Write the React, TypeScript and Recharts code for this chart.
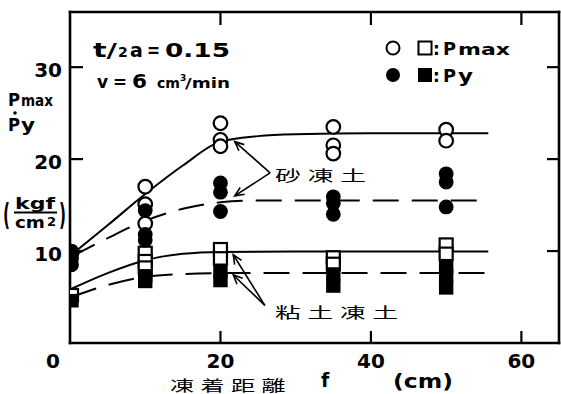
import React from 'react';
import { ComposedChart, XAxis, YAxis, Line, Scatter } from 'recharts';

// ---- data: freezing distance f (cm) vs strength (kgf/cm2) ----
// sandy frozen soil
const sandPmax = [
  { x: 0.2, y: 9.8 },
  { x: 10, y: 17.0 }, { x: 10, y: 15.1 }, { x: 10, y: 13.0 },
  { x: 20, y: 23.9 }, { x: 20, y: 22.1 }, { x: 20, y: 21.4 },
  { x: 35, y: 23.5 }, { x: 35, y: 21.5 }, { x: 35, y: 20.6 },
  { x: 50, y: 23.2 }, { x: 50, y: 22.0 },
];
const sandPy = [
  { x: 0.2, y: 10.0 }, { x: 0.2, y: 9.2 }, { x: 0.2, y: 8.5 },
  { x: 10, y: 14.4 }, { x: 10, y: 11.8 }, { x: 10, y: 11.2 },
  { x: 20, y: 17.4 }, { x: 20, y: 16.4 }, { x: 20, y: 14.3 },
  { x: 35, y: 15.9 }, { x: 35, y: 15.2 }, { x: 35, y: 14.0 },
  { x: 50, y: 18.4 }, { x: 50, y: 17.5 }, { x: 50, y: 14.8 },
];
// clayey frozen soil
const clayPmax = [
  { x: 0.2, y: 5.2 },
  { x: 10, y: 9.8 }, { x: 10, y: 8.9 }, { x: 10, y: 8.2 },
  { x: 20, y: 10.2 }, { x: 20, y: 9.2 },
  { x: 35, y: 9.3 }, { x: 35, y: 8.6 },
  { x: 50, y: 10.7 }, { x: 50, y: 9.7 },
];
const clayPy = [
  { x: 0.2, y: 4.6 },
  { x: 10, y: 7.3 }, { x: 10, y: 6.7 },
  { x: 20, y: 7.8 }, { x: 20, y: 6.8 },
  { x: 35, y: 7.5 }, { x: 35, y: 6.2 },
  { x: 50, y: 8.3 }, { x: 50, y: 7.3 }, { x: 50, y: 6.0 },
];

// fitted trend curves
const sandPmaxCurve = [
  { x: 0.2, y: 9.6 }, { x: 5, y: 12.8 }, { x: 10, y: 16.2 }, { x: 15, y: 19.3 },
  { x: 20, y: 21.9 }, { x: 25, y: 22.5 }, { x: 30, y: 22.7 }, { x: 40, y: 22.8 }, { x: 55.6, y: 22.8 },
];
const sandPyCurve = [
  { x: 0.2, y: 9.4 }, { x: 5, y: 11.4 }, { x: 10, y: 13.3 }, { x: 15, y: 14.6 },
  { x: 20, y: 15.3 }, { x: 25, y: 15.5 }, { x: 55.6, y: 15.5 },
];
const clayPmaxCurve = [
  { x: 0.2, y: 5.9 }, { x: 5, y: 7.6 }, { x: 10, y: 9.0 }, { x: 15, y: 9.7 },
  { x: 20, y: 9.9 }, { x: 30, y: 9.95 }, { x: 55.6, y: 9.95 },
];
const clayPyCurve = [
  { x: 0.2, y: 5.0 }, { x: 5, y: 6.3 }, { x: 10, y: 7.2 }, { x: 15, y: 7.5 },
  { x: 20, y: 7.6 }, { x: 55.6, y: 7.6 },
];

const xTicks = [0, 20, 40, 60];
const yTicks = [10, 20, 30];
const X_DOMAIN: [number, number] = [0, 65];
const Y_DOMAIN: [number, number] = [0, 36];

// ---- layout ----
const W = 561;
const H = 394;
const LEFT_W = 70;
const BOTTOM_H = 51;
const MARGIN = { top: 11, right: 1, bottom: 0, left: 0 };
const PLOT = { left: LEFT_W, top: MARGIN.top + 1, right: W - MARGIN.right - 1, bottom: H - BOTTOM_H };
const px = (v: number) => PLOT.left + ((v - X_DOMAIN[0]) / (X_DOMAIN[1] - X_DOMAIN[0])) * (PLOT.right - PLOT.left);
const py = (v: number) => PLOT.bottom - ((v - Y_DOMAIN[0]) / (Y_DOMAIN[1] - Y_DOMAIN[0])) * (PLOT.bottom - PLOT.top);

const INK = '#000';
const NUM_FONT = 'DejaVu Sans, Arial, sans-serif';
const CJK_FONT = '"Noto Sans CJK JP", "Noto Sans CJK SC", sans-serif';
const TICK_LEN = 12;

// ---- markers ----
const OpenCircle = (p: any) => (
  <circle cx={p.cx} cy={p.cy} r={6.8} fill="#fff" stroke={INK} strokeWidth={2.2} />
);
const FilledCircle = (p: any) => (
  <circle cx={p.cx} cy={p.cy} r={7.4} fill={INK} stroke="none" />
);
const OpenSquare = (p: any) => (
  <rect x={p.cx - 6.5} y={p.cy - 6.2} width={13} height={12.4} fill="#fff" stroke={INK} strokeWidth={2.2} />
);
const FilledSquare = (p: any) => (
  <rect x={p.cx - 7.2} y={p.cy - 6.8} width={14.4} height={13.6} fill={INK} stroke="none" />
);

// ---- axis ticks (drawn inward) ----
const BottomTick = (p: any) => {
  const v = p.payload.value;
  return (
    <g>
      {v !== 0 && <line x1={p.x} x2={p.x} y1={p.y} y2={p.y - TICK_LEN} stroke={INK} strokeWidth={2.2} />}
      <text x={v === 0 ? p.x - 17 : p.x} y={p.y + 25} textAnchor="middle" fontFamily={NUM_FONT} fontWeight={700} fontSize={20} fill={INK}>
        {v}
      </text>
    </g>
  );
};
const TopTick = (p: any) =>
  p.payload.value === 0 ? <g /> : (
    <line x1={p.x} x2={p.x} y1={p.y} y2={p.y + TICK_LEN + 1} stroke={INK} strokeWidth={2.2} />
  );
const LeftTick = (p: any) => (
  <g>
    <line x1={p.x} x2={p.x + TICK_LEN + 1} y1={p.y} y2={p.y} stroke={INK} strokeWidth={2.2} />
    <text x={p.x - 8} y={p.y + 9.5} textAnchor="end" fontFamily={NUM_FONT} fontWeight={700} fontSize={20} fill={INK}>
      {p.payload.value}
    </text>
  </g>
);
const RightTick = (p: any) => (
  <line x1={p.x} x2={p.x - TICK_LEN} y1={p.y} y2={p.y} stroke={INK} strokeWidth={2.2} />
);

// ---- annotation helpers ----
const Arrow = ({ from, to }: { from: [number, number]; to: [number, number] }) => {
  const x1 = px(from[0]);
  const y1 = py(from[1]);
  const x2 = px(to[0]);
  const y2 = py(to[1]);
  const a = Math.atan2(y1 - y2, x1 - x2);
  const L = 10;
  const s = 0.42;
  return (
    <g stroke={INK} strokeWidth={1.6} fill="none">
      <line x1={x1} y1={y1} x2={x2} y2={y2} />
      <polyline
        points={`${x2 + L * Math.cos(a + s)},${y2 + L * Math.sin(a + s)} ${x2},${y2} ${x2 + L * Math.cos(a - s)},${y2 + L * Math.sin(a - s)}`}
      />
    </g>
  );
};

const B = { fontFamily: NUM_FONT, fontWeight: 700, fill: INK } as const;
const FIT = { lengthAdjust: 'spacingAndGlyphs' } as const;
const CJK = { fontFamily: CJK_FONT, fill: INK, fontSize: 15, letterSpacing: 4, lengthAdjust: 'spacingAndGlyphs' } as const;

const Annotations = () => (
  <svg width={W} height={H} style={{ position: 'absolute', left: 0, top: 0, pointerEvents: 'none' }}>
    {/* test conditions */}
    <text x={93} y={57} fontSize={19} textLength={24} {...FIT} {...B}>t/</text>
    <text x={118} y={57} fontSize={14} {...B}>2</text>
    <text x={130} y={57} fontSize={19} {...B}>a</text>
    <text x={147} y={57} fontSize={19} textLength={13} {...FIT} {...B}>=</text>
    <text x={165} y={57} fontSize={20} textLength={65} {...FIT} {...B}>0.15</text>

    <text x={97} y={88} fontSize={17} {...B}>v</text>
    <text x={113} y={88} fontSize={17} textLength={14} {...FIT} {...B}>=</text>
    <text x={132} y={88} fontSize={19} textLength={15} {...FIT} {...B}>6</text>
    <text x={157} y={88} fontSize={14} textLength={23} {...FIT} {...B}>cm</text>
    <text x={180} y={81} fontSize={9} {...B}>3</text>
    <text x={185} y={88} fontSize={14} textLength={45} {...FIT} {...B}>/min</text>

    {/* legend */}
    <circle cx={393} cy={48} r={6.5} fill="#fff" stroke={INK} strokeWidth={2} />
    <rect x={418.5} y={41.5} width={13} height={13} fill="#fff" stroke={INK} strokeWidth={2} />
    <text x={433} y={55} fontSize={17} {...B}>:</text>
    <text x={443} y={55} fontSize={18} textLength={13} {...FIT} {...B}>P</text>
    <text x={458} y={55} fontSize={15} textLength={52} {...FIT} {...B}>max</text>
    <circle cx={393} cy={75} r={7} fill={INK} />
    <rect x={418} y={68} width={14} height={14} fill={INK} />
    <text x={433} y={82} fontSize={17} {...B}>:</text>
    <text x={443} y={82} fontSize={18} textLength={13} {...FIT} {...B}>P</text>
    <text x={458} y={82} fontSize={18} textLength={15} {...FIT} {...B}>y</text>

    {/* y-axis title */}
    <text x={8} y={106} fontSize={18} textLength={12} {...FIT} {...B}>P</text>
    <text x={21} y={106} fontSize={15} textLength={32} {...FIT} {...B}>max</text>
    <circle cx={15} cy={113} r={1.8} fill={INK} />
    <text x={8} y={131} fontSize={18} textLength={12} {...FIT} {...B}>P</text>
    <text x={21} y={131} fontSize={18} textLength={14} {...FIT} {...B}>y</text>

    <text x={3} y={225} fontSize={30} textLength={7} {...FIT} {...B}>(</text>
    <text x={15} y={209} fontSize={15} textLength={40} {...FIT} {...B}>kgf</text>
    <line x1={14} x2={57} y1={212.5} y2={212.5} stroke={INK} strokeWidth={1.8} />
    <text x={15} y={228} fontSize={15} textLength={30} {...FIT} {...B}>cm</text>
    <text x={47} y={226} fontSize={13} {...B}>2</text>
    <text x={59} y={225} fontSize={30} textLength={7} {...FIT} {...B}>)</text>

    {/* series labels with pointers */}
    <text x={275} y={181} textLength={98} {...CJK}>砂凍土</text>
    <Arrow from={[26.6, 18.5]} to={[21.9, 21.9]} />
    <Arrow from={[26.6, 18.5]} to={[21.9, 16.0]} />
    <text x={275} y={318} textLength={130} {...CJK}>粘土凍土</text>
    <Arrow from={[25.9, 4.1]} to={[21.7, 9.6]} />
    <Arrow from={[25.9, 4.1]} to={[21.7, 7.4]} />

    {/* x-axis title */}
    <text x={170} y={391} textLength={122} {...CJK}>凍着距離</text>
    <text x={321} y={387} fontSize={19} {...B}>f</text>
    <text x={393} y={388} fontSize={19} textLength={60} {...FIT} {...B}>(cm)</text>
  </svg>
);

export default function App() {
  const axisLine = { stroke: INK, strokeWidth: 2.6, strokeLinecap: 'square' as const };
  return (
    <div style={{ position: 'absolute', left: 0, top: 0, width: W, height: H, background: '#fff' }}>
      <ComposedChart width={W} height={H} margin={MARGIN}>
        <XAxis
          dataKey="x" type="number" domain={X_DOMAIN} ticks={xTicks} allowDataOverflow
          height={BOTTOM_H} axisLine={axisLine} tickLine={false} tickSize={0} tickMargin={0}
          tick={<BottomTick />} interval={0}
        />
        <XAxis
          xAxisId="top" orientation="top" dataKey="x" type="number" domain={X_DOMAIN} ticks={xTicks} allowDataOverflow
          height={1} axisLine={axisLine} tickLine={false} tickSize={0} tickMargin={0}
          tick={<TopTick />} interval={0}
        />
        <YAxis
          type="number" domain={Y_DOMAIN} ticks={yTicks} allowDataOverflow
          width={LEFT_W} axisLine={axisLine} tickLine={false} tickSize={0} tickMargin={0}
          tick={<LeftTick />} interval={0}
        />
        <YAxis
          yAxisId="right" orientation="right" type="number" domain={Y_DOMAIN} ticks={yTicks} allowDataOverflow
          width={1} axisLine={axisLine} tickLine={false} tickSize={0} tickMargin={0}
          tick={<RightTick />} interval={0}
        />

        <Line data={sandPmaxCurve} dataKey="y" type="monotone" dot={false} activeDot={false} stroke={INK} strokeWidth={2} isAnimationActive={false} />
        <Line data={sandPyCurve} dataKey="y" type="monotone" dot={false} activeDot={false} stroke={INK} strokeWidth={2} strokeDasharray="26 13" isAnimationActive={false} />
        <Line data={clayPmaxCurve} dataKey="y" type="monotone" dot={false} activeDot={false} stroke={INK} strokeWidth={2} isAnimationActive={false} />
        <Line data={clayPyCurve} dataKey="y" type="monotone" dot={false} activeDot={false} stroke={INK} strokeWidth={2} strokeDasharray="26 13" isAnimationActive={false} />

        <Scatter data={sandPmax} dataKey="y" shape={OpenCircle} isAnimationActive={false} />
        <Scatter data={clayPmax} dataKey="y" shape={OpenSquare} isAnimationActive={false} />
        <Scatter data={sandPy} dataKey="y" shape={FilledCircle} isAnimationActive={false} />
        <Scatter data={clayPy} dataKey="y" shape={FilledSquare} isAnimationActive={false} />
      </ComposedChart>
      <Annotations />
    </div>
  );
}
